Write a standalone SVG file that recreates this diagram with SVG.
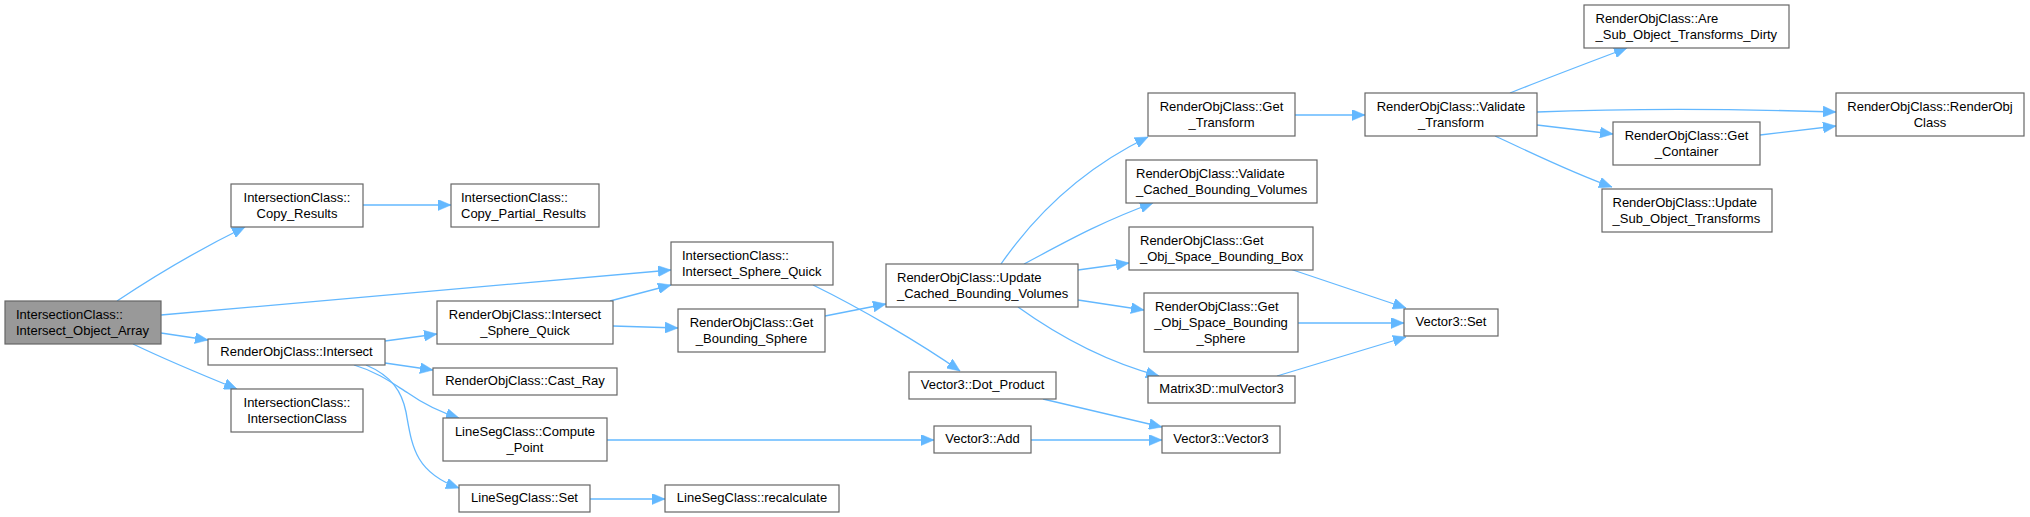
<svg xmlns="http://www.w3.org/2000/svg" width="2030" height="517" viewBox="0 0 2030 517">
<style>
.n rect{fill:#fff;stroke:#666;stroke-width:1.2}
.n.root rect{fill:#999}
.n text{font-family:"Liberation Sans",Arial,sans-serif;font-size:13px;fill:#000}
.m{text-anchor:middle}
.e path{fill:none;stroke:#63b8ff;stroke-width:1.3;marker-end:url(#ah)}
</style>
<defs>
<marker id="ah" markerUnits="userSpaceOnUse" markerWidth="14" markerHeight="11" viewBox="0 0 14 11" refX="13" refY="5.5" orient="auto">
<path d="M0,0 L13,5.5 L0,11 z" fill="#63b8ff" stroke="#63b8ff" stroke-width="0.5"/>
</marker>
</defs>
<rect width="2030" height="517" fill="#fff"/>
<g id="edges" class="e">
<path d="M117,301 C150,279 196,251 245,227"/>
<path d="M161,315 L671,270"/>
<path d="M161,333 L208,340"/>
<path d="M133,344 C160,357 200,374 237,389"/>
<path d="M363,205 L451,205"/>
<path d="M385,341 L437,334"/>
<path d="M385,363 L433,370"/>
<path d="M354,365 C378,372 395,385 408,393 C425,405 440,412 459,418"/>
<path d="M366,365 C392,376 402,392 406,412 C412,445 414,472 459,488"/>
<path d="M610,301 L671,285"/>
<path d="M613,326 L678,328"/>
<path d="M607,440 L934,440"/>
<path d="M590,499 L665,499"/>
<path d="M813,285 C860,308 920,343 960,371"/>
<path d="M825,316 L886,304"/>
<path d="M1001,264 C1035,215 1080,170 1148,137"/>
<path d="M1024,264 C1060,245 1100,222 1153,203"/>
<path d="M1078,270 L1129,263"/>
<path d="M1078,300 L1144,310"/>
<path d="M1018,307 C1050,330 1100,360 1159,376"/>
<path d="M1043,399 L1162,427"/>
<path d="M1031,440 L1162,440"/>
<path d="M1290,269 L1406,308"/>
<path d="M1298,323 L1404,323"/>
<path d="M1277,376 L1406,337"/>
<path d="M1295,115 L1365,115"/>
<path d="M1510,93 C1550,77 1590,62 1627,48"/>
<path d="M1537,112 C1640,108 1740,109 1836,112"/>
<path d="M1537,125 L1613,134"/>
<path d="M1495,136 C1530,152 1570,172 1612,187"/>
<path d="M1760,135 L1836,126"/>
</g>
<g id="n0" class="n root"><rect x="5" y="301" width="156" height="43"/><text x="16" y="319">IntersectionClass::</text><text x="16" y="335">Intersect_Object_Array</text></g>
<g id="n1" class="n"><rect x="231" y="184" width="132" height="43"/><text class="m" x="297" y="202">IntersectionClass::</text><text class="m" x="297" y="218">Copy_Results</text></g>
<g id="n2" class="n"><rect x="451" y="184" width="148" height="43"/><text x="461" y="202">IntersectionClass::</text><text x="461" y="218">Copy_Partial_Results</text></g>
<g id="n3" class="n"><rect x="208" y="339" width="177" height="26"/><text class="m" x="296.5" y="356">RenderObjClass::Intersect</text></g>
<g id="n4" class="n"><rect x="231" y="389" width="132" height="43"/><text class="m" x="297" y="407">IntersectionClass::</text><text class="m" x="297" y="423">IntersectionClass</text></g>
<g id="n5" class="n"><rect x="437" y="301" width="176" height="43"/><text class="m" x="525" y="319">RenderObjClass::Intersect</text><text class="m" x="525" y="335">_Sphere_Quick</text></g>
<g id="n6" class="n"><rect x="433" y="368" width="184" height="27"/><text class="m" x="525" y="385">RenderObjClass::Cast_Ray</text></g>
<g id="n7" class="n"><rect x="443" y="418" width="164" height="43"/><text class="m" x="525" y="436">LineSegClass::Compute</text><text class="m" x="525" y="452">_Point</text></g>
<g id="n8" class="n"><rect x="459" y="485" width="131" height="27"/><text class="m" x="524.5" y="502">LineSegClass::Set</text></g>
<g id="n9" class="n"><rect x="665" y="485" width="174" height="27"/><text class="m" x="752" y="502">LineSegClass::recalculate</text></g>
<g id="n10" class="n"><rect x="671" y="242" width="162" height="43"/><text x="682" y="260">IntersectionClass::</text><text x="682" y="276">Intersect_Sphere_Quick</text></g>
<g id="n11" class="n"><rect x="678" y="309" width="147" height="43"/><text class="m" x="751.5" y="327">RenderObjClass::Get</text><text class="m" x="751.5" y="343">_Bounding_Sphere</text></g>
<g id="n12" class="n"><rect x="886" y="264" width="192" height="43"/><text x="897" y="282">RenderObjClass::Update</text><text x="897" y="298">_Cached_Bounding_Volumes</text></g>
<g id="n13" class="n"><rect x="909" y="372" width="147" height="27"/><text class="m" x="982.5" y="389">Vector3::Dot_Product</text></g>
<g id="n14" class="n"><rect x="934" y="426" width="97" height="27"/><text class="m" x="982.5" y="443">Vector3::Add</text></g>
<g id="n15" class="n"><rect x="1162" y="426" width="118" height="27"/><text class="m" x="1221" y="443">Vector3::Vector3</text></g>
<g id="n16" class="n"><rect x="1148" y="93" width="147" height="43"/><text class="m" x="1221.5" y="111">RenderObjClass::Get</text><text class="m" x="1221.5" y="127">_Transform</text></g>
<g id="n17" class="n"><rect x="1126" y="160" width="191" height="43"/><text x="1136" y="178">RenderObjClass::Validate</text><text x="1136" y="194">_Cached_Bounding_Volumes</text></g>
<g id="n18" class="n"><rect x="1129" y="227" width="184" height="43"/><text x="1140" y="245">RenderObjClass::Get</text><text x="1140" y="261">_Obj_Space_Bounding_Box</text></g>
<g id="n19" class="n"><rect x="1144" y="293" width="154" height="59"/><text x="1155" y="311">RenderObjClass::Get</text><text class="m" x="1221" y="327">_Obj_Space_Bounding</text><text class="m" x="1221" y="343">_Sphere</text></g>
<g id="n20" class="n"><rect x="1148" y="376" width="147" height="27"/><text class="m" x="1221.5" y="393">Matrix3D::mulVector3</text></g>
<g id="n21" class="n"><rect x="1404" y="309" width="94" height="27"/><text class="m" x="1451" y="326">Vector3::Set</text></g>
<g id="n22" class="n"><rect x="1365" y="93" width="172" height="43"/><text class="m" x="1451" y="111">RenderObjClass::Validate</text><text class="m" x="1451" y="127">_Transform</text></g>
<g id="n23" class="n"><rect x="1584" y="5" width="205" height="43"/><text x="1595.5" y="23">RenderObjClass::Are</text><text x="1595.5" y="39">_Sub_Object_Transforms_Dirty</text></g>
<g id="n24" class="n"><rect x="1836" y="93" width="188" height="43"/><text class="m" x="1930" y="111">RenderObjClass::RenderObj</text><text class="m" x="1930" y="127">Class</text></g>
<g id="n25" class="n"><rect x="1613" y="122" width="147" height="43"/><text class="m" x="1686.5" y="140">RenderObjClass::Get</text><text class="m" x="1686.5" y="156">_Container</text></g>
<g id="n26" class="n"><rect x="1602" y="189" width="170" height="43"/><text x="1612.5" y="207">RenderObjClass::Update</text><text x="1612.5" y="223">_Sub_Object_Transforms</text></g>
</svg>
